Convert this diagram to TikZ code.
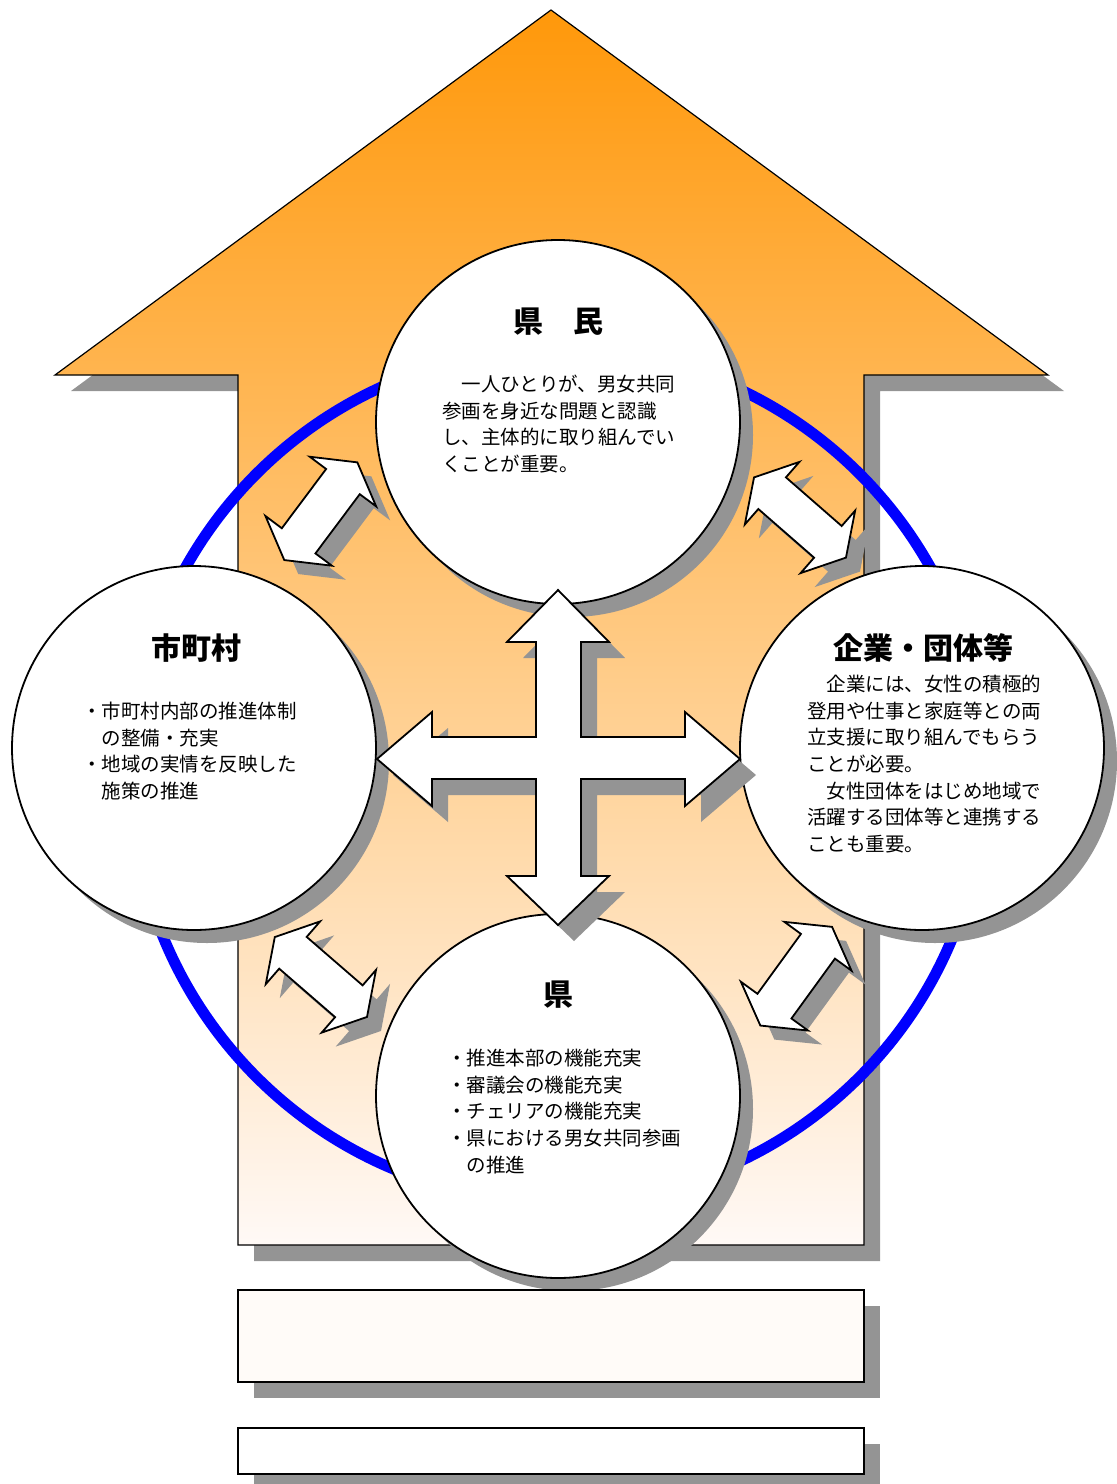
\documentclass[tikz,border=0pt]{standalone}
\usepackage{fontspec}
\newfontfamily\jp{Noto Sans CJK JP}
\definecolor{orangetop}{RGB}{255,152,10}
\definecolor{orangemid}{RGB}{253,192,160}
\definecolor{orangebot}{RGB}{255,249,246}
\definecolor{shadowgray}{RGB}{148,148,148}
\definecolor{ringblue}{RGB}{0,0,255}
\definecolor{boxfill}{RGB}{255,251,248}
\begin{document}
\begin{tikzpicture}[x=1pt,y=-1pt,
  shadowfill/.style={fill=shadowgray,draw=none},
  circ/.style={circle,draw=black,line width=1.8pt,fill=white,minimum size=364pt,inner sep=0pt},
  circshadow/.style={circle,fill=shadowgray,minimum size=364pt,inner sep=0pt},
  title/.style={font=\jp\bfseries\fontsize{30}{36}\selectfont,inner sep=0pt},
  body/.style={font=\jp\fontsize{19.5}{26.6}\selectfont,align=left,anchor=north west,inner sep=0pt},
  whitearrow/.style={fill=white,draw=black,line width=1.8pt,line join=miter},
  boxstyle/.style={draw=black,line width=1.8pt},
  pics/dbl/.style={code={\path[pic actions] (61,0) -- (37,41.5) -- (37,21) -- (-37,21) -- (-37,41.5) -- (-61,0) -- (-37,-41.5) -- (-37,-21) -- (37,-21) -- (37,-41.5) -- cycle;}}
]
\useasboundingbox (0,0) rectangle (1117,1484);

% big arrow shadow and body
\fill[shadowgray] (567,26) -- (1064,391) -- (880,391) -- (880,1261) -- (254,1261) -- (254,391) -- (71,391) -- cycle;
\shadedraw[top color=orangetop,middle color=orangemid,bottom color=orangebot,draw=black,line width=1.2pt]
  (551,10) -- (1048,375) -- (864,375) -- (864,1245) -- (238,1245) -- (238,375) -- (55,375) -- cycle;

% blue ring
\draw[ringblue,line width=11pt] (558,775.4) circle[radius=426.5pt];

% circle shadows
\node[circshadow] (s1) at (571,435) {};
\node[circshadow] (s2) at (207,761) {};
\node[circshadow] (s3) at (935,761) {};
\node[circshadow] (s4) at (571,1109) {};

% circles
\node[circ] (kenmin) at (558,422) {};
\node[circ] (shichoson) at (194,748) {};
\node[circ] (kigyo) at (922,748) {};
\node[circ] (ken) at (558,1096) {};

% bottom boxes
\fill[shadowgray] (254,1306) rectangle (880,1398);
\fill[shadowgray] (254,1444) rectangle (880,1490);
\node[boxstyle,fill=boxfill,minimum width=626pt,minimum height=92pt,inner sep=0pt] (box1) at (551,1336) {};
\node[boxstyle,fill=white,minimum width=626pt,minimum height=46pt,inner sep=0pt] (box2) at (551,1451) {};

% texts
\node[title] (t1) at (558,322) {県　民};
\node[body] (b1) at (442,375) {　一人ひとりが、男女共同\\参画を身近な問題と認識\\し、主体的に取り組んでい\\くことが重要。};
\node[title] (t2) at (196,648) {市町村};
\node[body] (b2) at (82,702) {・市町村内部の推進体制\\　の整備・充実\\・地域の実情を反映した\\　施策の推進};
\node[title] (t3) at (923,648) {企業・団体等};
\node[body] (b3) at (807,675) {　企業には、女性の積極的\\登用や仕事と家庭等との両\\立支援に取り組んでもらう\\ことが必要。\\　女性団体をはじめ地域で\\活躍する団体等と連携する\\ことも重要。};
\node[title] (t4) at (558,995) {県};
\node[body] (b4) at (447,1049) {・推進本部の機能充実\\・審議会の機能充実\\・チェリアの機能充実\\・県における男女共同参画\\　の推進};

% central cross arrow
\fill[shadowgray] (574,606) -- (625,658) -- (597,658) -- (597,753) -- (701,753) -- (701,728) -- (756,775) -- (701,822) -- (701,795) -- (597,795) -- (597,892) -- (625,892) -- (574,941) -- (523,892) -- (552,892) -- (552,795) -- (448,795) -- (448,822) -- (393,775) -- (448,728) -- (448,753) -- (552,753) -- (552,658) -- (523,658) -- cycle;
\path[whitearrow] (558,590) -- (609,642) -- (581,642) -- (581,737) -- (685,737) -- (685,712) -- (740,759) -- (685,806) -- (685,779) -- (581,779) -- (581,876) -- (609,876) -- (558,925) -- (507,876) -- (536,876) -- (536,779) -- (432,779) -- (432,806) -- (377,759) -- (432,712) -- (432,737) -- (536,737) -- (536,642) -- (507,642) -- cycle;

% diagonal double arrows
\pic[shadowfill,rotate=53.2] at (334.8,525.2) {dbl};
\pic[shadowfill,rotate=-41.1] at (814,531.5) {dbl};
\pic[shadowfill,rotate=-40.9] at (334.9,991) {dbl};
\pic[shadowfill,rotate=54] at (810.2,990.2) {dbl};
\pic[whitearrow,rotate=53.2] at (320.8,511.2) {dbl};
\pic[whitearrow,rotate=-41.1] at (800,517.5) {dbl};
\pic[whitearrow,rotate=-40.9] at (320.9,977) {dbl};
\pic[whitearrow,rotate=54] at (796.2,976.2) {dbl};
\end{tikzpicture}
\end{document}
